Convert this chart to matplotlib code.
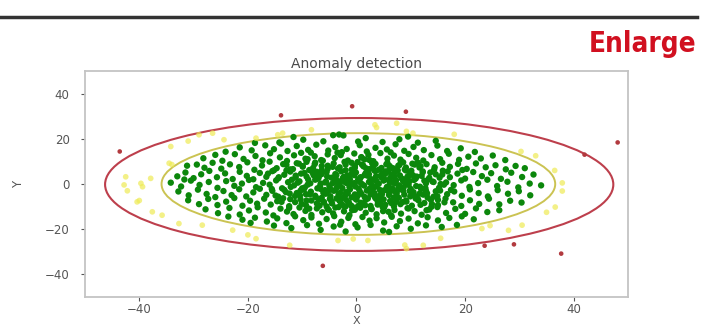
import matplotlib
matplotlib.use("Agg")
import matplotlib.pyplot as plt
from matplotlib.patches import Ellipse
from matplotlib.lines import Line2D

# points (x, y)
red_pts = [(-43.6, 14.4), (-13.9, 30.4), (-0.8, 34.4), (9.1, 32.0), (48.1, 18.4),
           (42.0, 13.0), (-6.2, -36.2), (23.6, -27.3), (29.0, -26.7), (37.7, -30.8)]

yellow_pts = [(-34.0, 8.6), (-42.5, 3.2), (-42.8, -0.4), (-39.4, -1.2), (-37.9, 2.5),
              (-40.4, -7.9), (-37.6, -12.3), (-35.8, -13.8), (-32.7, -17.5), (-28.4, -18.2),
              (-22.8, -20.4), (-18.5, -24.2), (-12.3, -27.1), (-34.2, 16.6), (-29.0, 21.8),
              (-26.5, 22.5), (-18.5, 20.3), (-13.6, 22.5), (-8.3, 24.0), (-39.7, 0.3),
              (-24.4, 19.6), (-34.5, 9.2), (-14.5, 21.8), (3.4, 26.2), (7.4, 26.9),
              (9.2, 23.3), (10.4, 22.5), (30.3, 14.4), (37.9, -3.1), (36.6, -10.2),
              (30.5, -18.2), (23.1, -19.7), (12.3, -27.1), (9.2, -28.6), (3.7, 25.0),
              (24.6, -18.4), (37.9, 0.5), (-3.4, -25.0), (-0.6, -24.3), (2.1, -25.0),
              (8.9, -27.0), (-42.2, -3.0), (-40.0, -7.3), (-31.0, 19.0), (36.5, 6.0),
              (33.0, 12.5), (18.0, 22.0), (-20.0, -22.5), (15.5, -24.0), (28.0, -20.5),
              (35.0, -12.5)]

green_pts = [
    # y 18..22
    (-14.2, 18.4), (-9.8, 19.6), (-6.1, 18.9), (-4.3, 21.6), (-3.2, 21.9), (-2.4, 21.5),
    (1.7, 20.3), (4.8, 18.6), (7.9, 19.8), (11.3, 18.3), (14.6, 19.1), (-18.7, 18.2),
    (0.3, 18.8), (9.5, 21.0), (-11.6, 20.8),
    # y 14..18
    (-24.1, 14.3), (-21.5, 16.2), (-19.3, 14.9), (-16.8, 17.1), (-15.2, 15.4), (-12.7, 14.6),
    (-11.0, 16.8), (-8.9, 15.1), (-7.4, 17.4), (-5.2, 14.8), (-3.9, 16.3), (-1.8, 15.5),
    (0.6, 17.2), (1.9, 14.4), (3.5, 16.0), (5.6, 15.3), (7.2, 17.6), (8.8, 14.7),
    (10.5, 16.4), (12.4, 15.0), (14.9, 17.0), (16.7, 14.6), (19.2, 15.8), (21.8, 14.2),
    (-2.7, 14.1), (6.3, 14.0), (-13.9, 17.9),
    # y 10..14
    (-28.2, 11.4), (-26.0, 12.9), (-24.7, 10.3), (-22.4, 13.2), (-20.8, 11.1), (-18.6, 12.4),
    (-17.3, 10.5), (-15.9, 13.6), (-14.1, 11.8), (-12.8, 10.2), (-11.5, 12.7), (-10.2, 13.8),
    (-9.0, 11.0), (-7.7, 12.3), (-6.5, 10.6), (-5.3, 13.1), (-4.0, 11.5), (-2.9, 12.8),
    (-1.6, 10.4), (-0.4, 13.5), (0.9, 11.7), (2.2, 12.9), (3.1, 10.1), (4.4, 13.7),
    (5.7, 11.2), (6.9, 12.6), (8.1, 10.8), (9.6, 13.3), (11.0, 11.6), (12.3, 10.4),
    (13.8, 12.8), (15.4, 11.0), (17.0, 13.4), (18.9, 10.7), (20.6, 12.1), (22.9, 11.3),
    (25.1, 12.6), (27.4, 10.6), (-3.5, 13.9), (1.5, 10.9), (-8.4, 13.9),
    # y 6..10
    (-31.2, 8.1), (-29.4, 8.6), (-28.0, 7.2), (-26.5, 9.4), (-24.9, 6.8), (-23.3, 8.7),
    (-21.6, 7.5), (-20.1, 9.6), (-18.8, 6.3), (-17.4, 8.2), (-16.0, 9.9), (-14.7, 7.0),
    (-13.5, 8.8), (-12.2, 6.5), (-11.0, 9.2), (-9.9, 7.7), (-8.7, 6.2), (-7.6, 9.5),
    (-6.4, 8.0), (-5.3, 6.7), (-4.2, 9.1), (-3.1, 7.4), (-2.0, 8.6), (-0.9, 6.4),
    (0.2, 9.7), (1.3, 7.8), (2.4, 6.6), (3.5, 8.9), (4.6, 7.1), (5.7, 9.3),
    (6.8, 6.9), (7.9, 8.4), (9.1, 6.0), (10.3, 9.0), (11.6, 7.3), (12.9, 8.8),
    (14.3, 6.4), (15.8, 9.4), (17.2, 7.6), (18.7, 8.9), (20.3, 6.7), (22.0, 9.1),
    (23.8, 7.4), (25.6, 8.3), (27.5, 6.5), (29.3, 8.0), (31.0, 7.0), (-0.3, 7.2),
    (3.0, 9.9), (6.1, 8.0), (-9.2, 9.8), (8.6, 9.6), (-15.2, 6.1), (19.5, 6.2), (1.0, 8.6),
    # y 2..6
    (-33.0, 3.4), (-31.5, 5.1), (-30.0, 2.6), (-28.6, 4.3), (-27.1, 5.8), (-25.7, 3.0),
    (-24.2, 4.7), (-22.8, 2.2), (-21.5, 5.4), (-20.2, 3.6), (-19.0, 2.1), (-17.8, 4.9),
    (-16.6, 3.2), (-15.5, 5.7), (-14.4, 2.5), (-13.3, 4.1), (-12.2, 5.5), (-11.2, 2.9),
    (-10.2, 4.6), (-9.2, 3.3), (-8.2, 5.9), (-7.3, 2.3), (-6.4, 4.4), (-5.5, 5.3),
    (-4.6, 2.8), (-3.7, 3.9), (-2.8, 5.6), (-1.9, 2.4), (-1.0, 4.2), (-0.1, 5.1),
    (0.8, 3.0), (1.7, 4.8), (2.6, 2.2), (3.5, 5.7), (4.4, 3.6), (5.3, 4.5),
    (6.2, 2.6), (7.1, 5.2), (8.0, 3.8), (9.0, 2.1), (10.0, 4.9), (11.1, 3.3),
    (12.2, 5.6), (13.4, 2.7), (14.6, 4.3), (15.9, 5.9), (17.2, 3.0), (18.6, 4.6),
    (20.0, 2.4), (21.5, 5.3), (23.1, 3.5), (24.8, 4.8), (26.6, 2.3), (28.5, 5.0),
    (30.5, 3.1), (32.6, 4.2), (0.3, 2.0), (-2.3, 3.2), (2.0, 3.7), (5.9, 5.8),
    (-6.9, 3.5), (9.7, 3.9),
    # y -2..2
    (-34.2, 0.6), (-32.3, -1.1), (-30.5, 1.5), (-28.9, -0.4), (-27.2, 0.9), (-25.6, -1.7),
    (-24.0, 1.3), (-22.5, -0.8), (-21.1, 0.2), (-19.8, 1.8), (-18.5, -1.4), (-17.2, 0.5),
    (-16.0, -0.3), (-14.8, 1.6), (-13.7, -1.9), (-12.6, 0.8), (-11.5, -0.6), (-10.5, 1.2),
    (-9.5, -1.5), (-8.5, 0.3), (-7.6, 1.9), (-6.7, -0.9), (-5.8, 0.7), (-4.9, -1.8),
    (-4.0, 1.4), (-3.1, -0.2), (-2.2, 1.0), (-1.3, -1.3), (-0.4, 0.4), (0.5, 1.7),
    (1.4, -0.7), (2.3, 0.9), (3.2, -1.6), (4.1, 0.1), (5.0, 1.5), (5.9, -1.0),
    (6.8, 0.6), (7.7, -1.9), (8.6, 1.3), (9.6, -0.4), (10.6, 1.8), (11.7, -1.2),
    (12.8, 0.3), (14.0, 1.1), (15.2, -1.7), (16.5, 0.7), (17.9, -0.5), (19.3, 1.6),
    (20.8, -1.3), (22.4, 0.4), (24.1, 1.9), (25.9, -0.9), (27.8, 1.0), (29.8, -1.5),
    (31.9, 0.2), (34.0, -0.6), (-31.7, 2.0), (1.0, 0.0), (-1.6, 1.9), (3.7, 1.2),
    (7.2, 0.3), (-3.6, 0.8),
    # y -6..-2
    (-32.8, -3.3), (-30.9, -5.0), (-29.2, -2.5), (-27.6, -4.4), (-26.0, -5.8), (-24.5, -3.1),
    (-23.0, -4.9), (-21.6, -2.3), (-20.3, -5.5), (-19.0, -3.7), (-17.8, -2.1), (-16.6, -4.8),
    (-15.5, -3.0), (-14.4, -5.6), (-13.3, -2.6), (-12.3, -4.2), (-11.3, -5.3), (-10.3, -2.9),
    (-9.3, -4.5), (-8.4, -3.4), (-7.5, -5.8), (-6.6, -2.2), (-5.7, -4.3), (-4.8, -5.4),
    (-3.9, -2.7), (-3.0, -3.9), (-2.1, -5.1), (-1.2, -2.4), (-0.3, -4.6), (0.6, -3.2),
    (1.5, -5.7), (2.4, -2.1), (3.3, -4.0), (4.2, -5.2), (5.1, -2.8), (6.0, -3.6),
    (6.9, -5.9), (7.8, -2.5), (8.8, -4.7), (9.8, -3.1), (10.8, -5.4), (11.9, -2.2),
    (13.0, -4.1), (14.2, -5.6), (15.4, -2.9), (16.7, -4.5), (18.0, -3.3), (19.4, -5.2),
    (20.9, -2.4), (22.5, -4.0), (24.2, -5.5), (26.0, -2.7), (27.9, -4.3), (29.9, -3.2),
    (32.0, -5.0), (-0.9, -5.9), (2.8, -3.5), (-5.2, -3.1), (4.7, -4.5),
    # y -10..-6
    (-31.0, -7.2), (-29.0, -8.9), (-27.3, -6.6), (-25.6, -9.3), (-24.0, -7.8), (-22.5, -6.2),
    (-21.0, -9.6), (-19.6, -7.4), (-18.3, -8.7), (-17.0, -6.5), (-15.8, -9.1), (-14.6, -7.6),
    (-13.5, -6.3), (-12.4, -9.8), (-11.3, -8.0), (-10.3, -6.8), (-9.3, -9.4), (-8.3, -7.3),
    (-7.3, -8.6), (-6.4, -6.1), (-5.5, -9.9), (-4.6, -7.7), (-3.7, -6.4), (-2.8, -8.8),
    (-1.9, -7.1), (-1.0, -9.5), (-0.1, -6.7), (0.8, -8.3), (1.7, -7.0), (2.6, -9.7),
    (3.5, -6.3), (4.4, -8.0), (5.3, -9.2), (6.2, -7.5), (7.1, -6.2), (8.1, -8.9),
    (9.1, -7.3), (10.2, -9.6), (11.3, -6.6), (12.5, -8.4), (13.7, -7.0), (15.0, -9.3),
    (16.4, -6.4), (17.8, -8.1), (19.3, -9.7), (20.9, -7.2), (22.6, -8.8), (24.4, -6.5),
    (26.3, -9.0), (28.3, -7.4), (30.4, -8.2), (-2.0, -9.9), (3.9, -7.6), (-6.0, -8.2),
    # y -14..-10
    (-27.8, -11.2), (-25.5, -12.9), (-23.4, -10.6), (-21.5, -13.5), (-19.8, -11.7), (-18.2, -10.3),
    (-16.7, -12.6), (-15.3, -13.9), (-14.0, -10.9), (-12.8, -12.2), (-11.6, -13.3), (-10.5, -10.4),
    (-9.4, -11.9), (-8.3, -13.7), (-7.3, -10.8), (-6.3, -12.5), (-5.3, -11.1), (-4.3, -13.0),
    (-3.3, -10.2), (-2.3, -12.1), (-1.3, -13.8), (-0.3, -11.4), (0.7, -10.5), (1.7, -12.7),
    (2.7, -11.0), (3.7, -13.4), (4.8, -10.1), (5.9, -12.3), (7.0, -11.5), (8.2, -13.1),
    (9.4, -10.7), (10.7, -12.0), (12.0, -13.6), (13.4, -11.3), (14.9, -10.2), (16.5, -12.8),
    (18.2, -11.0), (20.0, -13.2), (22.0, -10.8), (24.1, -12.4), (26.3, -11.6), (-0.8, -10.0),
    (6.4, -13.9),
    # y -18..-14
    (-23.6, -14.4), (-21.0, -15.8), (-18.7, -14.9), (-16.5, -16.6), (-14.6, -15.2), (-12.9, -17.3),
    (-11.3, -14.3), (-9.8, -16.0), (-8.3, -14.8), (-6.9, -17.6), (-5.5, -15.5), (-4.1, -14.2),
    (-2.8, -16.7), (-1.5, -15.0), (-0.2, -17.8), (1.1, -14.6), (2.4, -16.2), (3.7, -15.1),
    (5.1, -17.0), (6.5, -14.5), (8.0, -16.4), (9.6, -15.3), (11.3, -17.4), (13.1, -14.7),
    (15.0, -16.1), (17.1, -15.0), (19.4, -14.3), (21.6, -15.6), (-19.5, -17.2),
    # y -22..-18
    (-15.2, -18.4), (-12.0, -19.5), (-9.1, -18.2), (-6.6, -20.3), (-4.2, -18.8), (-2.0, -21.0),
    (0.2, -19.2), (2.6, -18.1), (4.9, -20.6), (7.4, -18.7), (10.0, -19.8), (12.8, -18.3),
    (15.7, -19.0), (-3.0, -18.0), (6.0, -21.2), (18.5, -18.1),
    # dense core
    (-11.2, 3.7), (-9.7, -2.4), (-8.1, 5.1), (-6.9, -6.9), (-5.6, 1.1), (-4.4, 7.6),
    (-3.3, -4.8), (-2.5, 2.7), (-1.4, -8.2), (-0.6, 5.5), (0.4, -2.0), (1.2, 8.3),
    (2.1, -6.4), (3.0, 1.9), (3.9, -9.1), (4.8, 4.7), (5.6, -1.3), (6.5, 7.1),
    (7.4, -4.2), (8.3, 2.5), (9.2, -7.8), (10.1, 5.9), (11.0, -0.9), (12.0, 3.6),
    (13.1, -6.0), (14.2, 0.9), (-10.4, -5.1), (-7.7, 8.8), (-5.0, -0.7), (-2.0, 6.1),
    (0.9, -4.3), (3.6, 3.4), (6.4, -8.4), (9.0, 0.5), (11.8, 7.9), (14.6, -3.2),
    (-12.1, -1.3), (-8.9, 2.0), (-6.1, -3.9), (-3.9, 4.4), (-1.1, -0.4), (1.8, 6.9),
    (4.3, -2.6), (7.0, 3.1), (9.9, -5.5), (12.7, -1.8), (-11.7, 6.6), (-7.2, -1.9),
    (-4.5, -8.6), (-1.7, 3.8), (0.0, -6.9), (2.8, -0.3), (5.4, 5.6), (8.6, -2.9),
    (10.9, 2.4), (13.6, 5.1), (-9.2, -7.3), (-6.4, 6.2), (-3.6, -1.5), (-0.9, 9.4),
    (2.3, 4.3), (5.0, -6.8), (7.7, 8.1), (10.5, -3.6), (15.3, 2.8), (-10.8, 0.6),
    (-5.4, 3.3), (-2.8, -6.3), (0.7, 2.8), (3.4, -5.7), (6.1, 1.0), (8.9, 6.4),
    (12.3, -4.7), (16.1, -0.3), (-8.6, -4.6), (-4.2, -3.0), (-0.2, -1.1), (4.1, 6.3),
    (7.9, -0.6), (11.4, -7.2), (-13.0, -3.6), (-7.9, 3.9), (-1.9, -3.6), (2.9, 9.1),
    (6.8, -3.0), (10.7, 8.6), (13.9, -8.9), (-6.6, 0.2), (-3.0, 1.2), (1.6, -9.4),
    (5.2, 2.0), (9.4, 3.3), (-9.9, 7.9), (-2.3, -9.8), (4.6, -3.9), (12.5, 1.5),
    (-12.9, 8.5), (-0.4, 3.9), (7.3, -7.9), (15.8, 4.2),
    (-15.6, -2.2), (-14.3, 3.0), (-13.8, -7.9), (-12.9, 6.0), (-12.4, -10.6), (-11.9, 1.9),
    (-11.0, -4.0), (-10.6, 9.0), (-10.1, -8.8), (-9.6, 4.9), (-9.0, -0.3), (-8.7, -10.9),
    (-8.0, 7.1), (-7.6, -5.2), (-7.0, 2.6), (-6.8, -9.6), (-6.2, 10.3), (-5.8, -2.7),
    (-5.3, 8.1), (-4.9, -6.6), (-4.4, 0.3), (-3.9, -10.4), (-3.4, 6.8), (-3.1, -7.5),
    (-2.6, -1.8), (-2.2, 9.8), (-1.6, -4.1), (-1.2, 2.0), (-0.8, -11.6), (-0.3, 7.9),
    (0.2, -5.3), (0.6, 0.9), (1.1, -8.8), (1.5, 4.0), (1.9, -2.9), (2.4, 10.6),
    (2.8, -11.1), (3.3, 6.0), (3.7, -1.0), (4.2, -7.2), (4.6, 2.9), (5.1, -10.3),
    (5.5, 8.7), (6.0, -4.9), (6.4, 4.2), (6.9, -9.9), (7.3, 1.6), (7.8, -6.1),
    (8.2, 10.1), (8.7, -1.4), (9.1, 7.3), (9.6, -10.8), (10.0, -2.2), (10.4, 3.9),
    (10.9, -6.4), (11.3, 9.5), (11.8, -9.2), (12.2, 5.2), (12.8, -3.0), (13.3, 2.1),
    (13.8, -10.1), (14.4, 7.4), (14.9, -5.4), (15.5, 0.0), (16.2, -8.1), (16.8, 5.6),
    (17.4, -2.6), (-14.9, -5.1), (-13.2, 8.9), (-9.4, 11.2), (-5.1, -11.5), (0.9, 11.9),
    (4.9, -12.0), (8.5, -8.0), (12.9, -11.6), (-16.3, 4.6), (-1.9, 0.5), (2.6, -4.6),
    (6.6, -1.9), (-7.3, 5.4), (9.8, 1.3), (-3.8, 2.2), (0.3, -9.7), (3.1, 7.6),
    (7.6, 6.0), (-10.0, -1.9), (-6.0, -7.9), (11.6, -4.3), (15.0, -7.0), (-12.2, -6.7),
]

# decision boundaries: centre, full width, full height
inner_center = (0.35, 0.0)
inner_size = (72.5, 45.0)
outer_center = (0.5, -0.2)
outer_size = (93.6, 58.8)

x_ticks = [-40, -20, 0, 20, 40]
y_ticks = [-40, -20, 0, 20, 40]

fig = plt.figure(figsize=(7.19, 3.27), dpi=100)
ax = fig.add_axes([0.1182, 0.0917, 0.7552, 0.6911])

gx, gy = zip(*green_pts)
yx, yy = zip(*yellow_pts)
rx, ry = zip(*red_pts)
ax.scatter(gx, gy, s=21, c="#0b870b", edgecolors="none", zorder=3)
ax.scatter(yx, yy, s=17, c="#eeeb55", alpha=0.7, edgecolors="none", zorder=3)
ax.scatter(rx, ry, s=11, c="#b23a3f", edgecolors="none", zorder=3)

ax.add_patch(Ellipse(inner_center, *inner_size, fill=False, ec="#cbc352", lw=1.4, zorder=2))
ax.add_patch(Ellipse(outer_center, *outer_size, fill=False, ec="#bd3f4c", lw=1.5, zorder=2))

ax.set_xlim(-50, 50)
ax.set_ylim(-50, 50)
ax.set_xticks(x_ticks)
ax.set_yticks(y_ticks)
ax.tick_params(labelsize=8.5, colors="#555555", length=3, width=0.8)
ax.tick_params(axis="x", pad=1)
ax.tick_params(axis="y", pad=8)
for sp in ax.spines.values():
    sp.set_color("#c4c4c4")
    sp.set_linewidth(1.3)
ax.set_title("Anomaly detection", fontsize=10, color="#4a4a4a", pad=2)
ax.set_xlabel("X", fontsize=8, color="#555555", labelpad=0)
ax.set_ylabel("Y", fontsize=8.5, color="#555555", labelpad=14)

# page decorations around the chart
fig.add_artist(Line2D([0, 0.97], [0.948, 0.948], color="#333333", lw=2.5))
fig.text(0.969, 0.84, "Enlarge", ha="right", va="baseline", color="#d11020",
         fontsize=20, fontweight="bold", fontstretch="condensed", family="DejaVu Sans")

fig.savefig("out.png", dpi=100)
